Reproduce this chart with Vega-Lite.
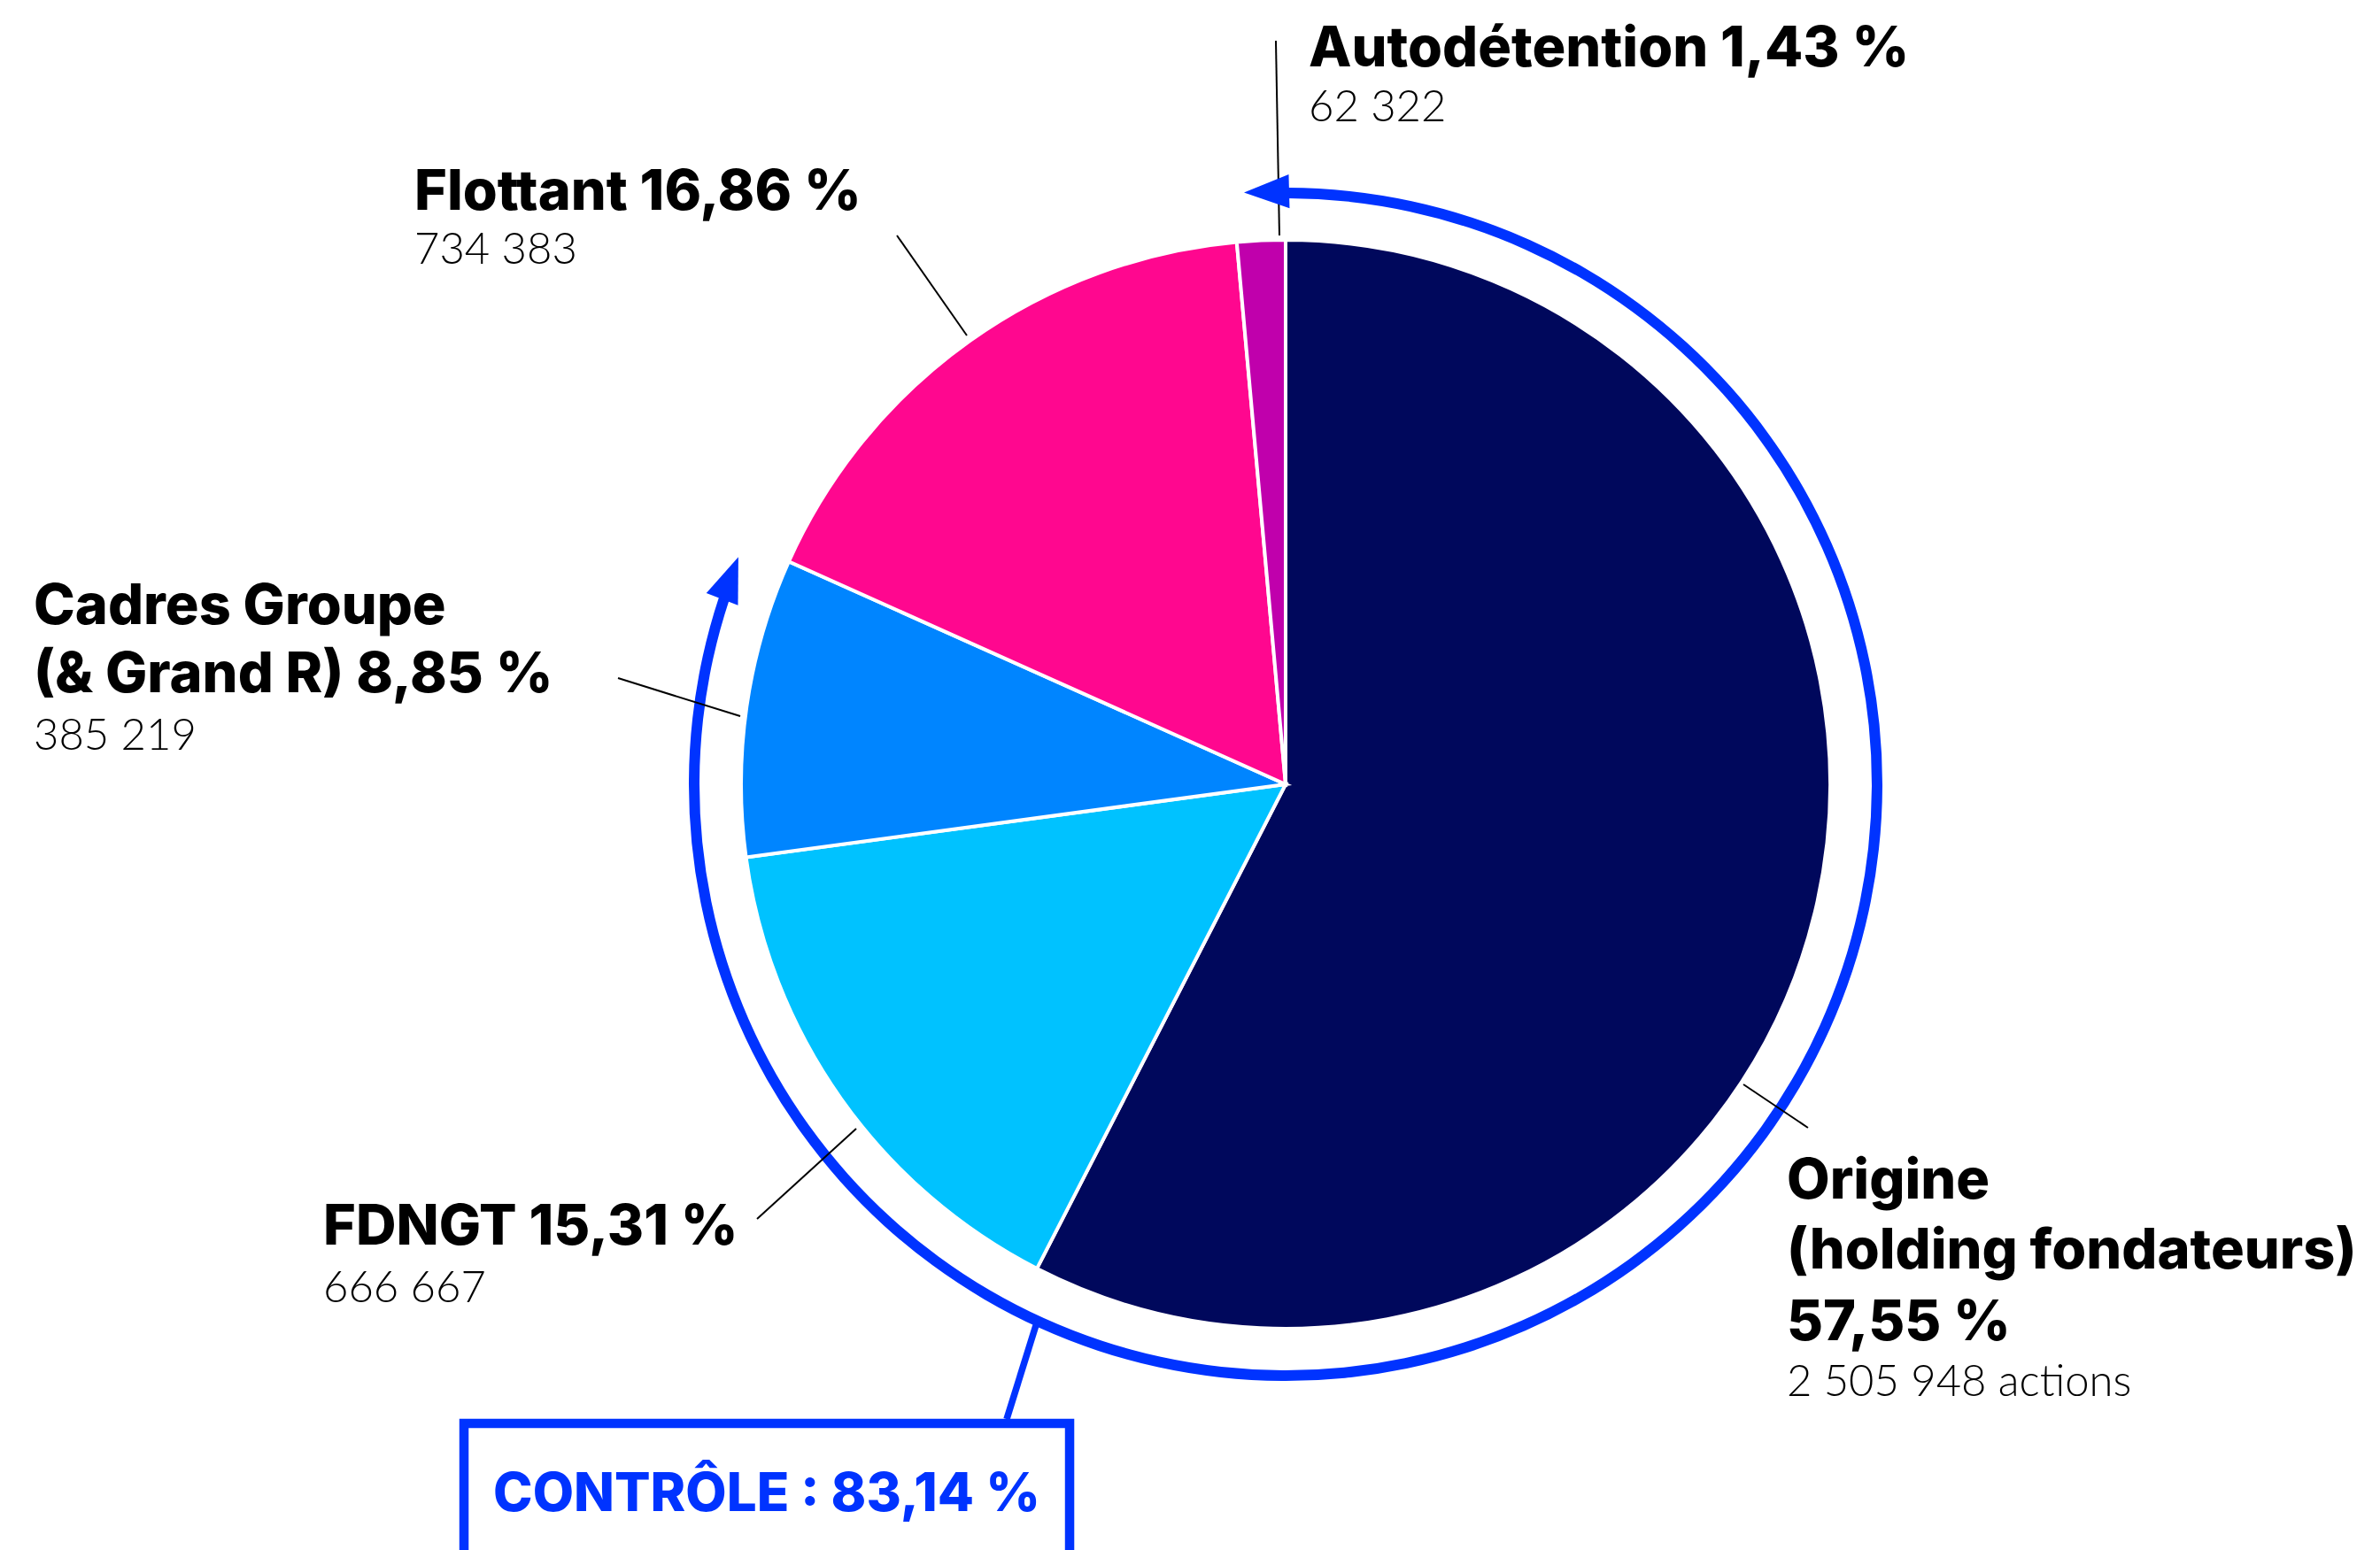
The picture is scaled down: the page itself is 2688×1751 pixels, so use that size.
{
  "$schema": "https://vega.github.io/schema/vega-lite/v6.json",
  "width": 2688,
  "height": 1751,
  "autosize": "none",
  "padding": 0,
  "background": "white",
  "config": {"view": {"stroke": null}},
  "datasets": {
    "slices": [
      {"segment": "Origine (holding fondateurs)", "pct": 57.55, "shares": 2505948, "rank": 1},
      {"segment": "FDNGT", "pct": 15.31, "shares": 666667, "rank": 2},
      {"segment": "Cadres Groupe (& Grand R)", "pct": 8.85, "shares": 385219, "rank": 3},
      {"segment": "Flottant", "pct": 16.86, "shares": 734383, "rank": 4},
      {"segment": "Autodétention", "pct": 1.43, "shares": 62322, "rank": 5}
    ],
    "texts": [
      {"u": 0.0423, "v": 1.3187, "line": "Autodétention 1,43 %", "kind": "label"},
      {"u": 0.0423, "v": 1.2179, "line": "62 322", "kind": "count"},
      {"u": -1.6, "v": 1.0553, "line": "Flottant 16,86 %", "kind": "label"},
      {"u": -1.6, "v": 0.9561, "line": "734 383", "kind": "count"},
      {"u": -2.2992, "v": 0.2943, "line": "Cadres Groupe", "kind": "label"},
      {"u": -2.2992, "v": 0.1691, "line": "(& Grand R) 8,85 %", "kind": "label"},
      {"u": -2.2992, "v": 0.0634, "line": "385 219", "kind": "count"},
      {"u": -1.7675, "v": -0.8455, "line": "FDNGT 15,31 %", "kind": "label"},
      {"u": -1.7675, "v": -0.9512, "line": "666 667", "kind": "count"},
      {"u": 0.9203, "v": -0.761, "line": "Origine", "kind": "label"},
      {"u": 0.9203, "v": -0.8894, "line": "(holding fondateurs)", "kind": "label"},
      {"u": 0.9203, "v": -1.0211, "line": "57,55 %", "kind": "label"},
      {"u": 0.9203, "v": -1.1236, "line": "2 505 948 actions", "kind": "count"},
      {"u": -0.9528, "v": -1.335, "line": "CONTRÔLE : 83,14 %", "kind": "control"}
    ],
    "leaders": [
      {"segment": "Autodétention", "u": -0.0179, "v": 1.3659, "u2": -0.0114, "v2": 1.0081},
      {"segment": "Flottant", "u": -0.7138, "v": 1.0081, "u2": -0.5854, "v2": 0.8244},
      {"segment": "Cadres Groupe (& Grand R)", "u": -1.226, "v": 0.1951, "u2": -1.0016, "v2": 0.1252},
      {"segment": "FDNGT", "u": -0.9707, "v": -0.7984, "u2": -0.7886, "v2": -0.6325},
      {"segment": "Origine (holding fondateurs)", "u": 0.8407, "v": -0.5512, "u2": 0.9593, "v2": -0.6309}
    ],
    "ring": [
      {"group": "Contrôle", "u": 0, "v": 0, "from": 0.05, "to": 80.1}
    ],
    "heads": [
      {"end": "start", "u": -0.035, "v": 1.0883, "dir": 358.5},
      {"end": "end", "u": -1.0199, "v": 0.3789, "dir": 111}
    ],
    "connector": [
      {"u": -0.4585, "v": -0.9935, "u2": -0.5122, "v2": -1.1659}
    ],
    "box": [
      {"u": -1.5089, "v": -1.174, "u2": -0.3967, "v2": -1.7}
    ]
  },
  "layer": [
    {
      "data": {"name": "ring"},
      "mark": {"type": "arc", "innerRadius": 662, "outerRadius": 674, "color": "#0033FF"},
      "encoding": {
        "x": {"field": "u", "type": "quantitative", "scale": {"domain": [-2.361, 2.0098], "nice": false, "zero": false}, "axis": null},
        "y": {"field": "v", "type": "quantitative", "scale": {"domain": [-1.4065, 1.4407], "nice": false, "zero": false}, "axis": null},
        "theta": {"field": "from", "type": "quantitative", "scale": {"domain": [0, 100], "range": [0, 6.283185307], "nice": false, "zero": false}},
        "theta2": {"field": "to"}
      }
    },
    {
      "data": {"name": "slices"},
      "mark": {"type": "arc", "outerRadius": 615, "stroke": "white", "strokeWidth": 4},
      "encoding": {
        "x": {"datum": 0, "type": "quantitative"},
        "y": {"datum": 0, "type": "quantitative"},
        "theta": {"field": "pct", "type": "quantitative", "stack": true},
        "order": {"field": "rank", "type": "quantitative"},
        "color": {
          "field": "segment",
          "type": "nominal",
          "scale": {
            "domain": ["Origine (holding fondateurs)", "FDNGT", "Cadres Groupe (& Grand R)", "Flottant", "Autodétention"],
            "range": ["#00085C", "#00C2FF", "#0085FF", "#FF078F", "#C000AC"]
          },
          "legend": null
        }
      }
    },
    {
      "data": {"name": "leaders"},
      "mark": {"type": "rule", "color": "black", "strokeWidth": 2},
      "encoding": {
        "x": {"field": "u", "type": "quantitative"},
        "y": {"field": "v", "type": "quantitative"},
        "x2": {"field": "u2"},
        "y2": {"field": "v2"}
      }
    },
    {
      "data": {"name": "heads"},
      "mark": {"type": "point", "shape": "M-1,0L1,-0.75L1,0.75Z", "filled": true, "color": "#0033FF", "opacity": 1, "size": 2601},
      "encoding": {
        "x": {"field": "u", "type": "quantitative"},
        "y": {"field": "v", "type": "quantitative"},
        "angle": {"field": "dir", "type": "quantitative", "scale": null}
      }
    },
    {
      "data": {"name": "connector"},
      "mark": {"type": "rule", "color": "#0033FF", "strokeWidth": 7.5},
      "encoding": {
        "x": {"field": "u", "type": "quantitative"},
        "y": {"field": "v", "type": "quantitative"},
        "x2": {"field": "u2"},
        "y2": {"field": "v2"}
      }
    },
    {
      "data": {"name": "box"},
      "mark": {"type": "rect", "filled": false, "stroke": "#0033FF", "strokeWidth": 10.5, "clip": true},
      "encoding": {
        "x": {"field": "u", "type": "quantitative"},
        "y": {"field": "v", "type": "quantitative"},
        "x2": {"field": "u2"},
        "y2": {"field": "v2"}
      }
    },
    {
      "data": {"name": "texts"},
      "transform": [{"filter": "datum.kind === 'label'"}],
      "mark": {"type": "text", "align": "left", "baseline": "alphabetic", "font": "Inter", "fontWeight": 800, "fontSize": 63, "color": "black"},
      "encoding": {
        "x": {"field": "u", "type": "quantitative"},
        "y": {"field": "v", "type": "quantitative"},
        "text": {"field": "line"}
      }
    },
    {
      "data": {"name": "texts"},
      "transform": [{"filter": "datum.kind === 'count'"}],
      "mark": {"type": "text", "align": "left", "baseline": "alphabetic", "font": "Lato", "fontWeight": 300, "fontSize": 49, "color": "black"},
      "encoding": {
        "x": {"field": "u", "type": "quantitative"},
        "y": {"field": "v", "type": "quantitative"},
        "text": {"field": "line"}
      }
    },
    {
      "data": {"name": "texts"},
      "transform": [{"filter": "datum.kind === 'control'"}],
      "mark": {"type": "text", "align": "center", "baseline": "alphabetic", "font": "Inter", "fontWeight": 800, "fontSize": 60, "color": "#0033FF"},
      "encoding": {
        "x": {"field": "u", "type": "quantitative"},
        "y": {"field": "v", "type": "quantitative"},
        "text": {"field": "line"}
      }
    }
  ]
}
